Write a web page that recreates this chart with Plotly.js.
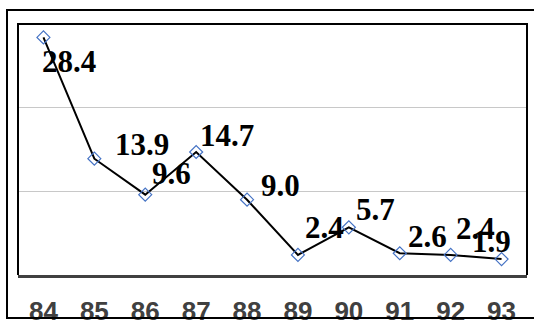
<!DOCTYPE html>
<html>
<head>
<meta charset="utf-8">
<script src="https://cdn.plot.ly/plotly-3.0.1.min.js"></script>
<style>
  html, body { margin: 0; padding: 0; background: #ffffff; }
  #chart { width: 534px; height: 320px; }
</style>
</head>
<body>
<div id="chart"></div>
<script>
// Yearly series, '84 to '93
const years = ['84', '85', '86', '87', '88', '89', '90', '91', '92', '93'];
const values = [28.4, 13.9, 9.6, 14.7, 9.0, 2.4, 5.7, 2.6, 2.4, 1.9];

// Pixel nudges for each value label, relative to its point
const labelShiftX = [26, 48, 26, 31, 33, 27, 27, 28, 25, -10];
const labelShiftY = [-24, 14, 21, 17, 14, 27, 18, 17, 26, 18];

const trace = {
  type: 'scatter',
  mode: 'lines+markers',
  x: years,
  y: values,
  line: { color: '#000000', width: 2 },
  marker: {
    symbol: 'diamond-open',
    size: 10,
    color: '#4472c4',
    line: { color: '#4472c4', width: 1.2 }
  },
  hoverinfo: 'skip'
};

// category axis: annotations are placed by category index
const labels = years.map((yr, i) => ({
  x: i,
  y: values[i],
  xref: 'x',
  yref: 'y',
  text: values[i].toFixed(1),
  showarrow: false,
  xshift: labelShiftX[i],
  yshift: labelShiftY[i],
  font: { family: 'Liberation Serif, Times New Roman, serif', size: 31, color: '#000000', weight: 'bold' }
}));

const layout = {
  width: 534,
  height: 320,
  margin: { l: 18, r: 7, t: 24, b: 45 },
  paper_bgcolor: '#ffffff',
  plot_bgcolor: '#ffffff',
  showlegend: false,
  xaxis: {
    type: 'category',
    range: [-0.5, years.length - 0.5],
    showgrid: false,
    zeroline: false,
    showline: true,
    linecolor: '#404040',
    linewidth: 3,
    ticks: '',
    ticklabelstandoff: 11,
    tickfont: { family: 'Liberation Sans, Arial, sans-serif', size: 26, color: '#404040', weight: 'bold' },
    fixedrange: true
  },
  yaxis: {
    range: [0, 30],
    dtick: 10,
    showgrid: true,
    gridcolor: '#c8c8c8',
    gridwidth: 1,
    zeroline: false,
    showline: false,
    showticklabels: false,
    ticks: '',
    fixedrange: true
  },
  annotations: labels,
  shapes: [
    // plot frame: left, top and right sides (bottom is the x axis line)
    {
      type: 'path', xref: 'paper', yref: 'paper',
      path: 'M 0 0 L 0 1 L 1 1 L 1 0',
      line: { color: '#000000', width: 2 },
      layer: 'above'
    },
    // outer chart frame
    {
      type: 'rect', xref: 'paper', yref: 'paper',
      x0: -0.0216, x1: 1.06, y0: -0.1713, y1: 1.0558,
      line: { color: '#000000', width: 2 },
      layer: 'above'
    }
  ]
};

Plotly.newPlot('chart', [trace], layout, { displayModeBar: false, staticPlot: true });
</script>
</body>
</html>
